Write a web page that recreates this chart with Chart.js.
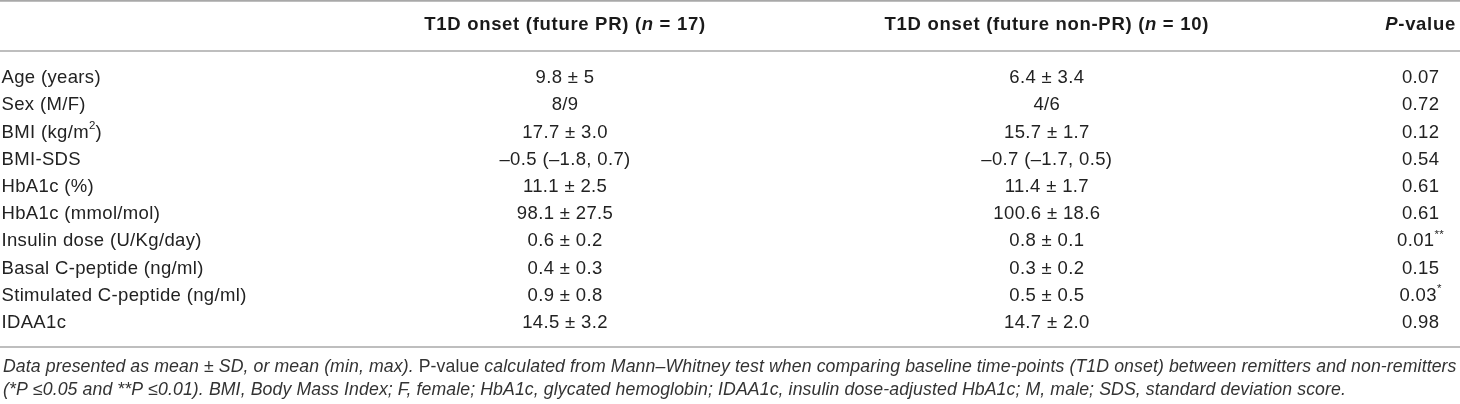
<!DOCTYPE html>
<html>
<head>
<meta charset="utf-8">
<script src="https://cdn.jsdelivr.net/npm/chart.js@4.4.1/dist/chart.umd.min.js"></script>
<style>
  html, body { margin: 0; padding: 0; background: #fff; }
  #wrap { width: 1460px; height: 404px; }
</style>
</head>
<body>
<div id="wrap"><canvas id="myChart" width="1460" height="404"></canvas></div>
<script>
// Table content. "~" toggles italic, "^" toggles superscript.
var headers = ['', 'T1D onset (future PR) (~n~ = 17)', 'T1D onset (future non-PR) (~n~ = 10)', '~P~-value'];

var rowLabels = [
    'Age (years)',
    'Sex (M/F)',
    'BMI (kg/m^2^)',
    'BMI-SDS',
    'HbA1c (%)',
    'HbA1c (mmol/mol)',
    'Insulin dose (U/Kg/day)',
    'Basal C-peptide (ng/ml)',
    'Stimulated C-peptide (ng/ml)',
    'IDAA1c'
];

var prValues = ['9.8 ± 5', '8/9', '17.7 ± 3.0', '–0.5 (–1.8, 0.7)', '11.1 ± 2.5',
    '98.1 ± 27.5', '0.6 ± 0.2', '0.4 ± 0.3', '0.9 ± 0.8', '14.5 ± 3.2'];

var nonPrValues = ['6.4 ± 3.4', '4/6', '15.7 ± 1.7', '–0.7 (–1.7, 0.5)', '11.4 ± 1.7',
    '100.6 ± 18.6', '0.8 ± 0.1', '0.3 ± 0.2', '0.5 ± 0.5', '14.7 ± 2.0'];

var pValues = ['0.07', '0.72', '0.12', '0.54', '0.61', '0.61', '0.01^**^', '0.15', '0.03^*^', '0.98'];

// footnote is italic by default, "~" switches to upright here
var footnotes = [
    'Data presented as mean ± SD, or mean (min, max). ~P-value~ calculated from Mann–Whitney test when comparing baseline time-points (T1D onset) between remitters and non-remitters',
    '(*P ≤0.05 and **P ≤0.01). BMI, Body Mass Index; F, female; HbA1c, glycated hemoglobin; IDAA1c, insulin dose-adjusted HbA1c; M, male; SDS, standard deviation score.'
];

// Layout: column anchors on the x scale (0..1) and their alignment
var columnAnchor = [0.001, 0.387, 0.717, 0.973];
var columnAlign = ['left', 'center', 'center', 'center'];
var columnText = [rowLabels, prValues, nonPrValues, pValues];

var FONT = '"Liberation Sans", Arial, sans-serif';
var TEXT_COLOR = '#222';
var RULE_COLOR = '#a8a8a8';

function parseRich(str, baseItalic){
    var segs = [];
    var italic = baseItalic, sup = false, cur = '';
    for (var i = 0; i < str.length; i++){
        var c = str[i];
        if (c === '~' || c === '^'){
            if (cur) segs.push({t: cur, italic: italic, sup: sup});
            cur = '';
            if (c === '~') italic = !italic; else sup = !sup;
        } else {
            cur += c;
        }
    }
    if (cur) segs.push({t: cur, italic: italic, sup: sup});
    return segs;
}

function fontFor(seg, size, bold){
    var s = seg.sup ? size * 0.62 : size;
    return (seg.italic ? 'italic ' : '') + (bold ? 'bold ' : '') + s + 'px ' + FONT;
}

function drawRich(ctx, str, x, y, align, o){
    var segs = parseRich(str, o.italic || false);
    var total = 0;
    ctx.letterSpacing = o.spacing + 'px';
    segs.forEach(function(s){
        ctx.font = fontFor(s, o.size, o.bold);
        s.w = ctx.measureText(s.t).width;
        total += s.w;
    });
    var cx = x;
    if (align === 'center') cx = x - total / 2;
    else if (align === 'right') cx = x - total;
    ctx.textAlign = 'left';
    ctx.textBaseline = 'middle';
    ctx.fillStyle = o.color || TEXT_COLOR;
    segs.forEach(function(s){
        ctx.font = fontFor(s, o.size, o.bold);
        ctx.fillText(s.t, cx, s.sup ? y - o.size * 0.36 : y);
        cx += s.w;
    });
    ctx.letterSpacing = '0px';
}

var tablePlugin = {
    id: 'tableText',
    afterDatasetsDraw: function(chart){
        var ctx = chart.ctx;
        var area = chart.chartArea;
        var xs = chart.scales.x;
        ctx.save();

        // rules
        ctx.strokeStyle = RULE_COLOR;
        ctx.lineWidth = 1.6;
        [area.top - 63.5, area.top - 13.4, area.bottom + 10.4].forEach(function(y){
            ctx.beginPath();
            ctx.moveTo(area.left, y);
            ctx.lineTo(area.right, y);
            ctx.stroke();
        });

        // header row
        headers.forEach(function(h, c){
            if (!h) return;
            drawRich(ctx, h, xs.getPixelForValue(columnAnchor[c]), area.top - 39,
                columnAlign[c], {size: 18.5, bold: true, spacing: 0.7, color: '#1a1a1a'});
        });

        // body cells, one dataset per column
        chart.data.datasets.forEach(function(ds, c){
            var meta = chart.getDatasetMeta(c);
            meta.data.forEach(function(el, i){
                drawRich(ctx, columnText[c][i], el.x, el.y, columnAlign[c],
                    {size: 18.5, spacing: 0.35});
            });
        });

        // footnotes
        footnotes.forEach(function(f, i){
            drawRich(ctx, f, area.left + 3, area.bottom + 30.4 + i * 23, 'left',
                {size: 17.7, italic: true, spacing: 0.1, color: '#333'});
        });
        ctx.restore();
    }
};

var datasets = columnText.map(function(col, c){
    return {
        label: 'col' + c,
        data: col.map(function(t, i){ return {x: columnAnchor[c], y: rowLabels[i]}; }),
        pointRadius: 0,
        pointHoverRadius: 0,
        showLine: false
    };
});

var myChart = new Chart(document.getElementById('myChart'), {
    type: 'scatter',
    data: { labels: rowLabels, datasets: datasets },
    options: {
        responsive: false,
        animation: false,
        events: [],
        layout: { padding: { top: 64.4, bottom: 67.4, left: 0, right: 0 } },
        plugins: { legend: { display: false }, tooltip: { enabled: false }, title: { display: false } },
        scales: {
            x: { type: 'linear', min: 0, max: 1, display: false },
            y: { type: 'category', labels: rowLabels, offset: true, display: false }
        }
    },
    plugins: [tablePlugin]
});
</script>
</body>
</html>
